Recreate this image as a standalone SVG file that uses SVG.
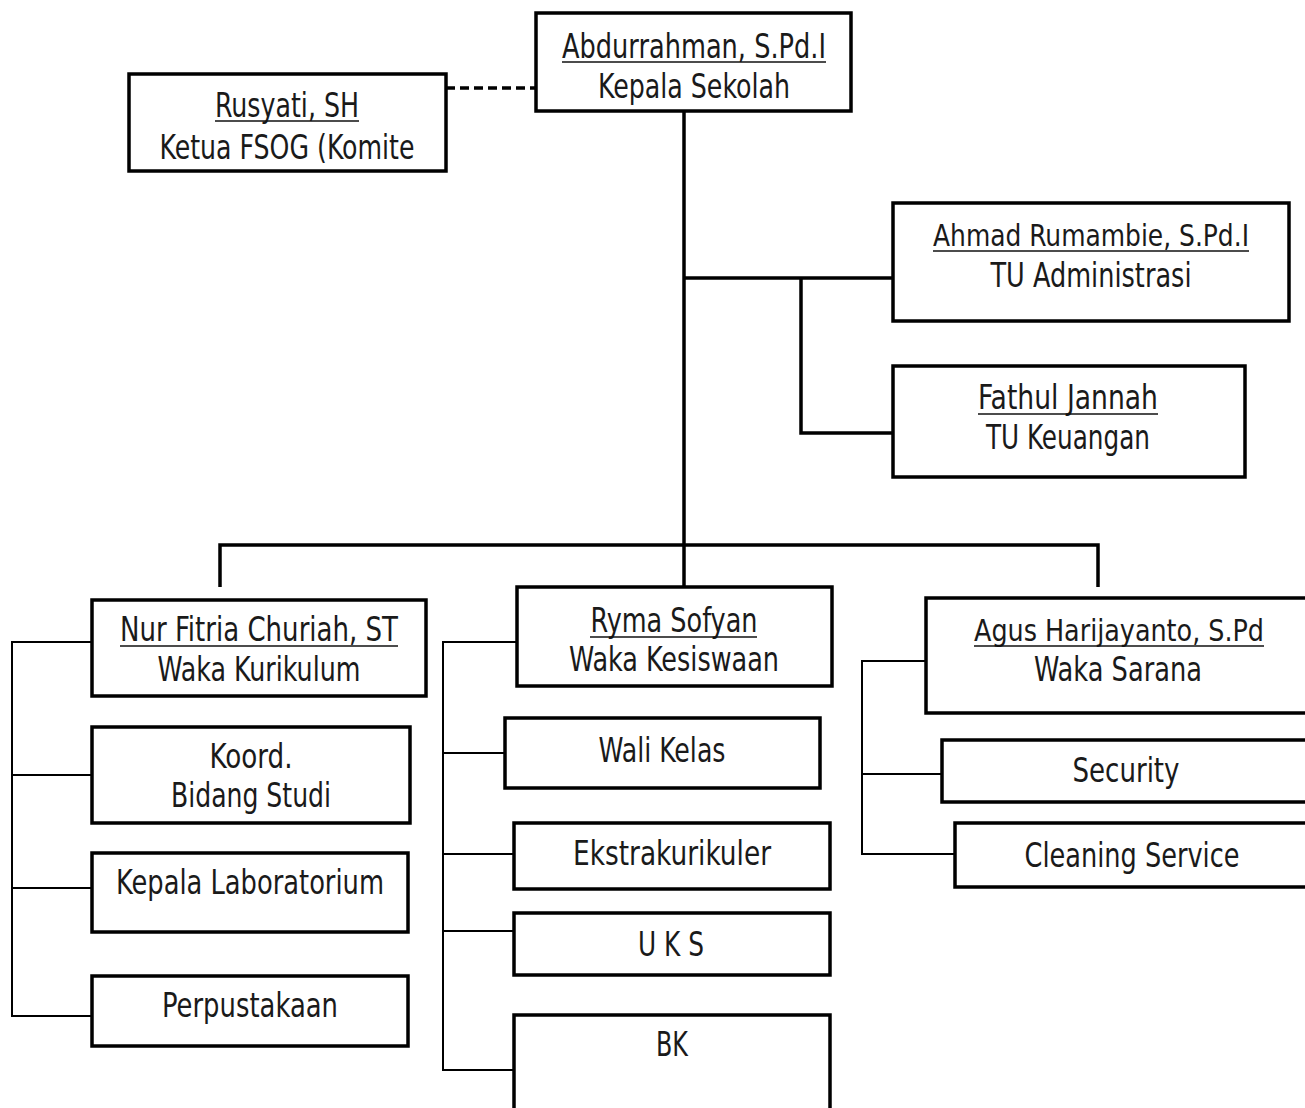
<svg xmlns="http://www.w3.org/2000/svg" width="1305" height="1108" viewBox="0 0 1305 1108">
<style>
.box{fill:#fff;stroke:#000;stroke-width:3.5}
.main{fill:none;stroke:#000;stroke-width:3.5}
.thin{fill:none;stroke:#000;stroke-width:2}
.ul{stroke:#111;stroke-width:1.6}
text{font-family:"DejaVu Sans Condensed","DejaVu Sans","Liberation Sans",sans-serif;font-size:33px;fill:#1a1a1a;text-anchor:middle}
.long{font-size:30px}
</style>
<rect width="1305" height="1108" fill="#fff"/>
<g id="connectors">
<path class="main" d="M446,88 H536" stroke-dasharray="9,5"/>
<path class="main" d="M684,111 V587"/>
<path class="main" d="M684,278 H893"/>
<path class="main" d="M801,278 V433 H893"/>
<path class="main" d="M220,587 V545 H1098 V587"/>
<path class="thin" d="M92,642 H12 V1016 H92 M12,775 H92 M12,888 H92"/>
<path class="thin" d="M517,642 H443 V1070 H514 M443,753 H505 M443,854 H514 M443,931 H514"/>
<path class="thin" d="M926,661 H862 V854 H955 M862,774 H943"/>
</g>
<g id="kepala">
<rect class="box" x="536" y="13" width="315" height="98"/>
<text x="694" y="58" textLength="264" lengthAdjust="spacingAndGlyphs">Abdurrahman, S.Pd.I</text>
<line class="ul" x1="562" y1="62" x2="826" y2="62"/>
<text x="694" y="98" textLength="192" lengthAdjust="spacingAndGlyphs">Kepala Sekolah</text>
</g>
<g id="komite">
<rect class="box" x="129" y="74" width="317" height="97"/>
<text x="287" y="117" textLength="144" lengthAdjust="spacingAndGlyphs">Rusyati, SH</text>
<line class="ul" x1="215" y1="121" x2="359" y2="121"/>
<text x="287" y="159" textLength="255" lengthAdjust="spacingAndGlyphs">Ketua FSOG (Komite</text>
</g>
<g id="tu-admin">
<rect class="box" x="893" y="203" width="396" height="118"/>
<text class="long" x="1091" y="246" textLength="316" lengthAdjust="spacingAndGlyphs">Ahmad Rumambie, S.Pd.I</text>
<line class="ul" x1="933" y1="251" x2="1249" y2="251"/>
<text x="1091" y="287" textLength="201" lengthAdjust="spacingAndGlyphs">TU Administrasi</text>
</g>
<g id="tu-keuangan">
<rect class="box" x="893" y="366" width="352" height="111"/>
<text x="1068" y="409" textLength="180" lengthAdjust="spacingAndGlyphs">Fathul Jannah</text>
<line class="ul" x1="978" y1="414" x2="1158" y2="414"/>
<text x="1068" y="449" textLength="164" lengthAdjust="spacingAndGlyphs">TU Keuangan</text>
</g>
<g id="kurikulum">
<rect class="box" x="92" y="600" width="334" height="96"/>
<text x="259" y="641" textLength="278" lengthAdjust="spacingAndGlyphs">Nur Fitria Churiah, ST</text>
<line class="ul" x1="120" y1="646" x2="398" y2="646"/>
<text x="259" y="681" textLength="203" lengthAdjust="spacingAndGlyphs">Waka Kurikulum</text>
</g>
<g id="koord">
<rect class="box" x="92" y="727" width="318" height="96"/>
<text x="251" y="768" textLength="83" lengthAdjust="spacingAndGlyphs">Koord.</text>
<text x="251" y="807" textLength="160" lengthAdjust="spacingAndGlyphs">Bidang Studi</text>
</g>
<g id="lab">
<rect class="box" x="92" y="853" width="316" height="79"/>
<text x="250" y="894" textLength="268" lengthAdjust="spacingAndGlyphs">Kepala Laboratorium</text>
</g>
<g id="perpus">
<rect class="box" x="92" y="976" width="316" height="70"/>
<text x="250" y="1017" textLength="176" lengthAdjust="spacingAndGlyphs">Perpustakaan</text>
</g>
<g id="kesiswaan">
<rect class="box" x="517" y="587" width="315" height="99"/>
<text x="674" y="632" textLength="167" lengthAdjust="spacingAndGlyphs">Ryma Sofyan</text>
<line class="ul" x1="590" y1="637" x2="757" y2="637"/>
<text x="674" y="671" textLength="210" lengthAdjust="spacingAndGlyphs">Waka Kesiswaan</text>
</g>
<g id="wali">
<rect class="box" x="505" y="718" width="315" height="70"/>
<text x="662" y="762" textLength="127" lengthAdjust="spacingAndGlyphs">Wali Kelas</text>
</g>
<g id="ekstra">
<rect class="box" x="514" y="823" width="316" height="66"/>
<text x="672" y="865" textLength="198" lengthAdjust="spacingAndGlyphs">Ekstrakurikuler</text>
</g>
<g id="uks">
<rect class="box" x="514" y="913" width="316" height="62"/>
<text x="671" y="956" textLength="66" lengthAdjust="spacingAndGlyphs">U K S</text>
</g>
<g id="bk">
<rect class="box" x="514" y="1015" width="316" height="110"/>
<text x="672" y="1056" textLength="32" lengthAdjust="spacingAndGlyphs">BK</text>
</g>
<g id="sarana">
<rect class="box" x="926" y="598" width="400" height="115"/>
<text class="long" x="1119" y="641" textLength="290" lengthAdjust="spacingAndGlyphs">Agus Harijayanto, S.Pd</text>
<line class="ul" x1="974" y1="646" x2="1264" y2="646"/>
<text x="1118" y="681" textLength="168" lengthAdjust="spacingAndGlyphs">Waka Sarana</text>
</g>
<g id="security">
<rect class="box" x="942" y="740" width="380" height="62"/>
<text x="1126" y="782" textLength="107" lengthAdjust="spacingAndGlyphs">Security</text>
</g>
<g id="cleaning">
<rect class="box" x="955" y="823" width="370" height="64"/>
<text x="1132" y="867" textLength="215" lengthAdjust="spacingAndGlyphs">Cleaning Service</text>
</g>
</svg>
